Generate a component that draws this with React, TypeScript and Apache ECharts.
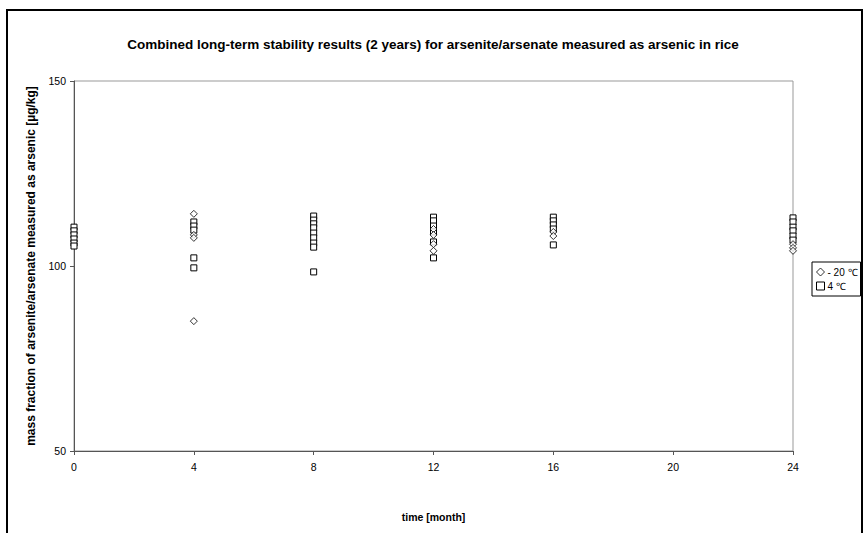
import React, { useEffect, useRef } from "react";
import * as echarts from "echarts";

const titleText =
  "Combined long-term stability results (2 years) for arsenite/arsenate measured as arsenic in rice";
const xAxisName = "time [month]";
const yAxisName = "mass fraction of arsenite/arsenate measured as arsenic [µg/kg]";
const seriesNames = ["- 20 ℃", "4 ℃"];

// [month, value]
const minus20: [number, number][] = [
  [4, 114.1], [4, 108.4], [4, 107.6], [4, 85.1],
  [12, 110.0], [12, 108.4], [12, 105.9], [12, 104.1],
  [16, 109.2], [16, 108.1],
  [24, 105.9], [24, 104.9], [24, 104.1],
];
const plus4: [number, number][] = [
  [0, 110.5], [0, 109.5], [0, 108.4], [0, 107.3], [0, 106.2], [0, 105.4],
  [4, 111.9], [4, 110.8], [4, 109.7], [4, 102.2], [4, 99.5],
  [8, 113.5], [8, 112.4], [8, 111.4], [8, 110.3], [8, 108.9], [8, 107.6], [8, 106.2], [8, 105.1], [8, 98.4],
  [12, 113.2], [12, 112.2], [12, 110.8], [12, 109.2], [12, 106.5], [12, 102.2],
  [16, 113.2], [16, 112.2], [16, 111.1], [16, 110.0], [16, 105.7],
  [24, 113.0], [24, 111.9], [24, 110.5], [24, 109.5], [24, 108.1], [24, 107.0],
];

export default function App() {
  const ref = useRef<HTMLDivElement>(null);
  useEffect(() => {
    if (!ref.current) return;
    const chart = echarts.init(ref.current, null, { renderer: "svg" });
    const font = "Liberation Sans, Arial, sans-serif";
    chart.setOption({
      animation: false,
      backgroundColor: "#fff",
      textStyle: { fontFamily: font },
      title: {
        text: titleText,
        left: "center",
        top: 32,
        textStyle: { fontSize: 13.5, fontWeight: "bold", color: "#000", fontFamily: font },
      },
      graphic: [
        {
          type: "polyline",
          shape: { points: [[7, 540], [7, 10], [862, 10], [862, 540]] },
          style: { stroke: "#000", lineWidth: 2, fill: "none" },
          silent: true,
        },
      ],
      legend: {
        orient: "vertical",
        left: 812,
        top: 262,
        itemWidth: 8,
        itemHeight: 8,
        itemGap: 4,
        padding: [5, 3, 5, 4],
        borderColor: "#000",
        borderWidth: 1,
        itemStyle: { borderWidth: 1 },
        textStyle: { fontSize: 10, color: "#000", fontFamily: font, padding: [0, 0, 0, -2] },
        data: seriesNames,
      },
      grid: {
        left: 74,
        right: 73,
        top: 81,
        bottom: 82,
        show: true,
        borderColor: "#999",
        borderWidth: 1,
      },
      xAxis: {
        type: "value",
        min: 0,
        max: 24,
        interval: 4,
        name: xAxisName,
        nameLocation: "middle",
        nameGap: 60,
        nameTextStyle: { fontSize: 10.5, fontWeight: "bold", color: "#000" },
        axisLine: { show: true, lineStyle: { color: "#555", width: 1 } },
        axisTick: { show: true, inside: false, length: 4, lineStyle: { color: "#555" } },
        axisLabel: { fontSize: 10.5, color: "#000", margin: 10 },
        splitLine: { show: false },
      },
      yAxis: {
        type: "value",
        min: 50,
        max: 150,
        interval: 50,
        name: yAxisName,
        nameLocation: "middle",
        nameGap: 37,
        nameTextStyle: { fontSize: 12, fontWeight: "bold", color: "#000" },
        axisLine: { show: true, lineStyle: { color: "#555", width: 1 } },
        axisTick: { show: true, inside: false, length: 4, lineStyle: { color: "#555" } },
        axisLabel: { fontSize: 10.5, color: "#000", margin: 8 },
        splitLine: { show: false },
      },
      series: [
        {
          name: seriesNames[0],
          type: "scatter",
          symbol: "diamond",
          symbolSize: 7,
          data: minus20,
          itemStyle: { color: "#fff", borderColor: "#000", borderWidth: 1 },
          z: 3,
        },
        {
          name: seriesNames[1],
          type: "scatter",
          symbol: "rect",
          symbolSize: 6,
          data: plus4,
          itemStyle: { color: "#fff", borderColor: "#000", borderWidth: 1, opacity: 1 },
          z: 2,
        },
      ],
    });
    return () => chart.dispose();
  }, []);
  return (
    <div
      ref={ref}
      style={{ position: "fixed", left: 0, top: 0, width: 866, height: 533, background: "#fff" }}
    />
  );
}
